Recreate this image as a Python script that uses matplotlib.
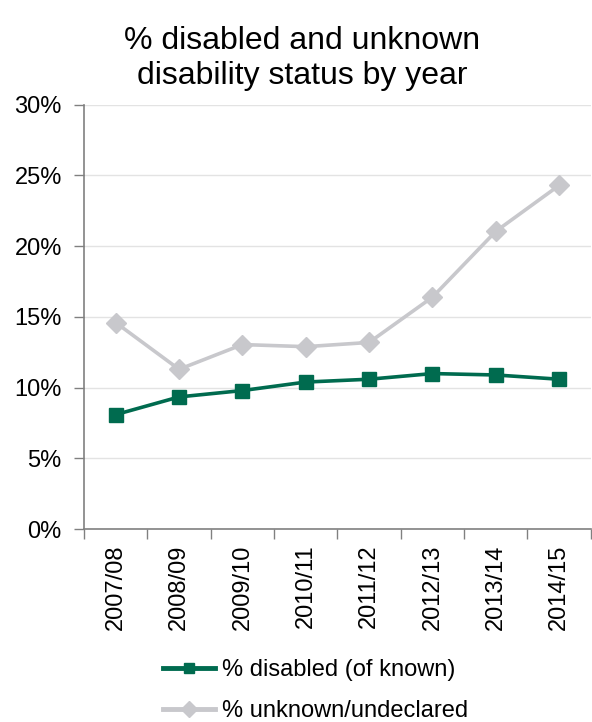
import matplotlib
matplotlib.use("Agg")
import matplotlib.pyplot as plt
from matplotlib.ticker import PercentFormatter

years = ["2007/08", "2008/09", "2009/10", "2010/11", "2011/12", "2012/13", "2013/14", "2014/15"]
disabled = [8.1, 9.35, 9.8, 10.4, 10.6, 11.0, 10.9, 10.6]
unknown = [14.6, 11.3, 13.05, 12.9, 13.2, 16.4, 21.05, 24.3]

plt.rcParams['font.family'] = ['Liberation Sans', 'DejaVu Sans']

fig = plt.figure(figsize=(5.92, 7.22), dpi=100)
ax = fig.add_axes([0.142, 0.267, 0.856, 0.588])

x = list(range(len(years)))
ax.plot(x, disabled, color="#006B4F", lw=2.6, marker="s", ms=10.5, label="% disabled (of known)", zorder=3)
ax.plot(x, unknown, color="#C8C8CC", lw=2.6, marker="D", ms=10.5, label="% unknown/undeclared", zorder=2)

ax.set_xlim(-0.5, len(years) - 0.5)
ax.set_ylim(0, 30)
ax.set_yticks([0, 5, 10, 15, 20, 25, 30])
ax.yaxis.set_major_formatter(PercentFormatter(decimals=0))
ax.set_xticks(x)
ax.set_xticklabels(years, rotation=90)
ax.set_xticks([i - 0.5 for i in range(len(years) + 1)], minor=True)
ax.tick_params(axis='x', which='major', length=0, labelsize=17, pad=11)
ax.tick_params(axis='x', which='minor', length=7, width=1, color="#808080")
ax.tick_params(axis='y', length=7, width=1, color="#808080", labelsize=17, pad=9)
ax.grid(axis='y', color="#E3E3E3", lw=1)
ax.set_axisbelow(True)
for s in ['top', 'right']:
    ax.spines[s].set_visible(False)
for s in ['left', 'bottom']:
    ax.spines[s].set_color("#808080")
    ax.spines[s].set_linewidth(1.2)

fig.text(0.51, 0.964, "% disabled and unknown\ndisability status by year", ha='center', va='top',
         fontsize=23, linespacing=1.2)

leg = fig.legend(loc='lower left', bbox_to_anchor=(0.251, -0.02), frameon=False, fontsize=17,
                 handlelength=2.2, labelspacing=0.82, handletextpad=0.3, borderaxespad=0.2, markerscale=0.75)
for h in leg.get_lines():
    h.set_linewidth(3.5)

fig.savefig("out.png", dpi=100)
